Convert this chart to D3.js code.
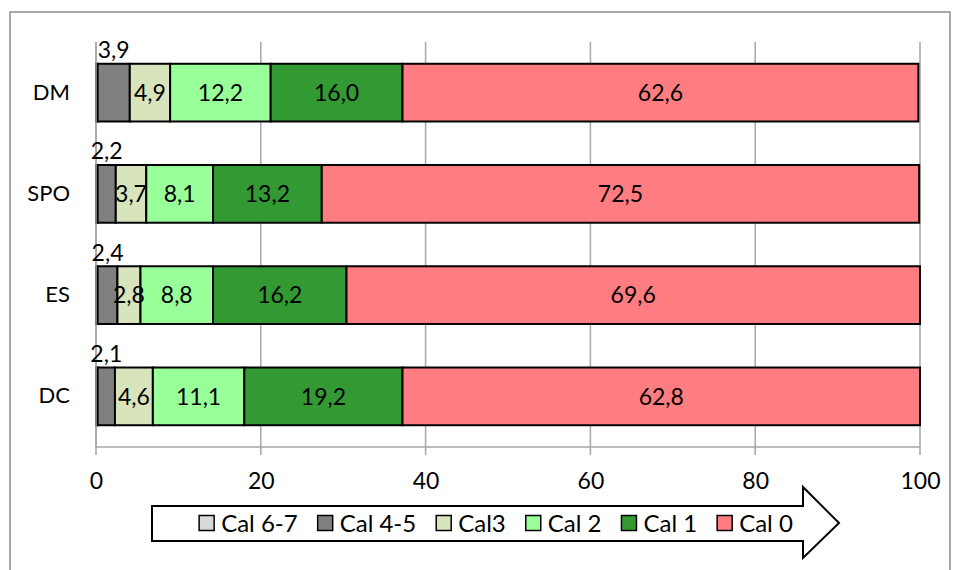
<!DOCTYPE html>
<html>
<head>
<meta charset="utf-8">
<script src="https://cdn.jsdelivr.net/npm/d3@7/dist/d3.min.js"></script>
<style>
  body { margin: 0; background: #fff; }
  text { font-family: Lato, "Open Sans", sans-serif; fill: #000; }
</style>
</head>
<body>
<div id="canvas"></div>
<script>
// data
const categories = ["DM", "SPO", "ES", "DC"];
const seriesNames = ["Cal 6-7", "Cal 4-5", "Cal3", "Cal 2", "Cal 1", "Cal 0"];
const cal67 = [0.2, 0.2, 0.2, 0.2];
const cal45 = [3.9, 2.2, 2.4, 2.1];
const cal3 = [4.9, 3.7, 2.8, 4.6];
const cal2 = [12.2, 8.1, 8.8, 11.1];
const cal1 = [16.0, 13.2, 16.2, 19.2];
const cal0 = [62.6, 72.5, 69.6, 62.8];
const xTicks = [0, 20, 40, 60, 80, 100];

const colors = ["#d9d9d9", "#808080", "#d8e4bc", "#99ff99", "#339933", "#ff7c80"];

const width = 956;
const height = 570;
const margin = { top: 42, left: 96, bottom: 123, right: 36 };
const iwidth = width - margin.left - margin.right;
const iheight = height - margin.top - margin.bottom;

const rows = categories.map((c, i) => ({
  cat: c,
  "Cal 6-7": cal67[i],
  "Cal 4-5": cal45[i],
  "Cal3": cal3[i],
  "Cal 2": cal2[i],
  "Cal 1": cal1[i],
  "Cal 0": cal0[i],
}));

const svg = d3.select("#canvas").append("svg")
  .attr("width", width)
  .attr("height", height);

// outer chart border
svg.append("rect")
  .attr("x", 10).attr("y", 12)
  .attr("width", 940).attr("height", 600)
  .attr("fill", "none")
  .attr("stroke", "#8c8c8c")
  .attr("stroke-width", 1.5);

const g = svg.append("g")
  .attr("transform", `translate(${margin.left},${margin.top})`);

const x = d3.scaleLinear().domain([0, 100]).range([0, iwidth]);
const y = d3.scaleBand()
  .domain(categories)
  .range([0, iheight])
  .paddingInner(0.43)
  .paddingOuter(0.215);

// gridlines + bottom axis
g.append("g")
  .selectAll("line")
  .data(xTicks)
  .join("line")
  .attr("x1", d => x(d)).attr("x2", d => x(d))
  .attr("y1", 0).attr("y2", iheight + 8)
  .attr("stroke", "#a6a6a6")
  .attr("stroke-width", 1.5);

g.append("line")
  .attr("x1", 0).attr("x2", iwidth)
  .attr("y1", iheight).attr("y2", iheight)
  .attr("stroke", "#a6a6a6")
  .attr("stroke-width", 1.5);

const xAxis = g.append("g")
  .attr("transform", `translate(0,${iheight})`)
  .call(d3.axisBottom(x).tickValues(xTicks).tickSize(0).tickPadding(26));
xAxis.select(".domain").remove();
xAxis.selectAll("text")
  .style("font-family", "Lato, sans-serif")
  .style("font-size", "23px")
  .attr("fill", "#000");

const yAxis = g.append("g")
  .call(d3.axisLeft(y).tickSize(0).tickPadding(26));
yAxis.select(".domain").remove();
yAxis.selectAll("text")
  .style("font-family", "Lato, sans-serif")
  .style("font-size", "22px")
  .attr("fill", "#000");

// stacked bars
const stack = d3.stack().keys(seriesNames);
const layers = stack(rows);

const fmt = v => d3.format(".1f")(v).replace(".", ",");

const layer = g.selectAll("g.layer")
  .data(layers)
  .join("g")
  .attr("class", "layer")
  .attr("fill", (d, i) => colors[i]);

layer.selectAll("rect")
  .data(d => d)
  .join("rect")
  .attr("x", d => x(d[0]))
  .attr("y", d => y(d.data.cat))
  .attr("width", d => x(d[1]) - x(d[0]))
  .attr("height", y.bandwidth())
  .attr("stroke", "#000")
  .attr("stroke-width", 2);

// left value axis line drawn over bars
g.append("line")
  .attr("x1", 0).attr("x2", 0)
  .attr("y1", 0).attr("y2", iheight)
  .attr("stroke", "#a6a6a6")
  .attr("stroke-width", 1.5);

// data labels
layers.forEach((L, li) => {
  if (L.key === "Cal 6-7") return;
  g.append("g")
    .selectAll("text")
    .data(L)
    .join("text")
    .attr("x", d => x((d[0] + d[1]) / 2))
    .attr("y", d => L.key === "Cal 4-5"
      ? y(d.data.cat) - 14
      : y(d.data.cat) + y.bandwidth() / 2)
    .attr("dy", "0.36em")
    .attr("text-anchor", "middle")
    .style("font-size", "23px")
    .text(d => fmt(d[1] - d[0]));
});

// legend inside a block arrow
svg.append("path")
  .attr("d", d3.line()([[152, 506], [803, 506], [803, 487], [839, 523],
    [803, 558], [803, 541], [152, 541]]) + "Z")
  .attr("fill", "#fff")
  .attr("stroke", "#000")
  .attr("stroke-width", 2);

const legend = svg.append("g");
const items = legend.selectAll("g")
  .data(seriesNames)
  .join("g");
items.append("rect")
  .attr("width", 15).attr("height", 15)
  .attr("y", -7.5)
  .attr("fill", (d, i) => colors[i])
  .attr("stroke", "#000")
  .attr("stroke-width", 1.5);
items.append("text")
  .attr("x", 22)
  .attr("dy", "0.36em")
  .style("font-size", "24px")
  .text(d => d);

let cx = 0;
const gap = 20;
items.each(function () {
  const w = 22 + this.querySelector("text").getComputedTextLength();
  d3.select(this).attr("transform", `translate(${cx},0)`);
  cx += w + gap;
});
const total = cx - gap;
legend.attr("transform", `translate(${496 - total / 2},523)`);
</script>
</body>
</html>
